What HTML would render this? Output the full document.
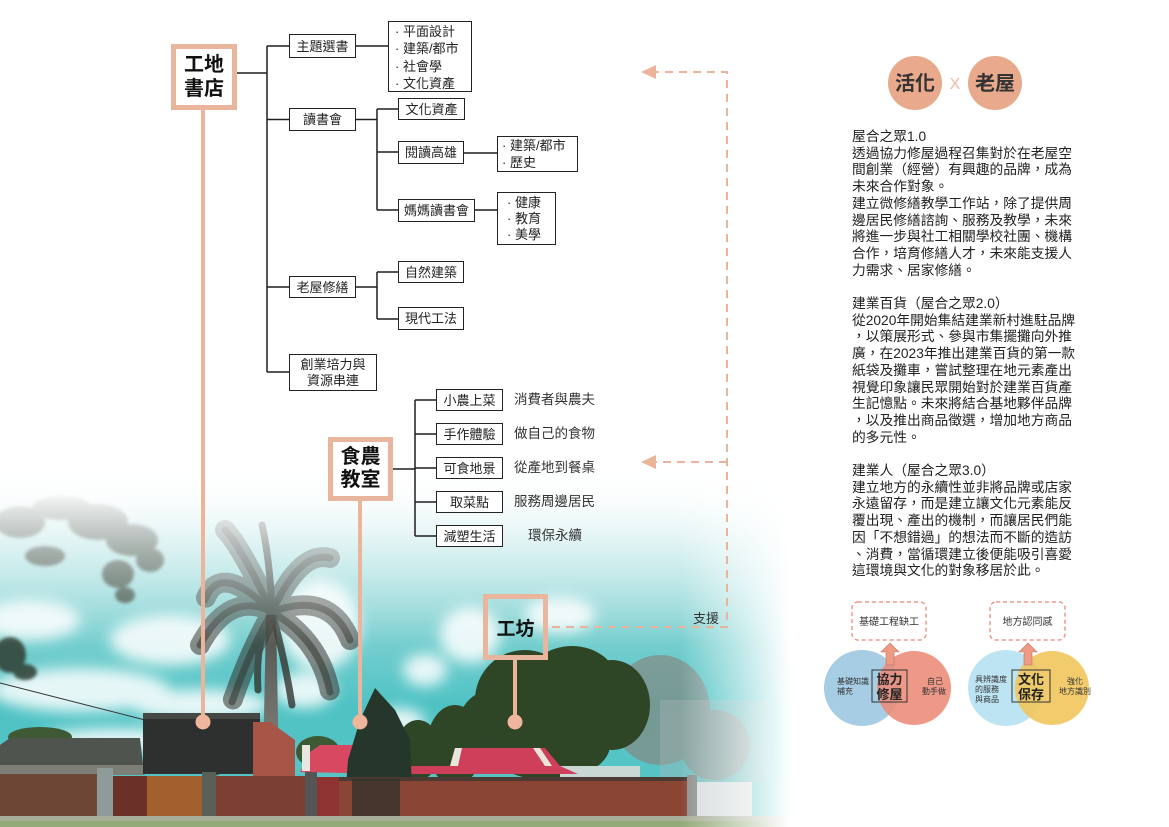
<!DOCTYPE html>
<html><head><meta charset="utf-8">
<style>
html,body{margin:0;padding:0}
body{width:1169px;height:827px;overflow:hidden;background:#fff;position:relative;font-family:"Liberation Sans","Noto Sans CJK TC",sans-serif;}
.b{position:absolute;border:1.5px solid #222;background:#fff;box-sizing:border-box;font-size:13px;color:#222;display:flex;align-items:center;justify-content:center;line-height:1;white-space:nowrap;}
.l{position:absolute;border:1.5px solid #222;background:#fff;box-sizing:border-box;font-size:13px;color:#222;white-space:nowrap}
.big{position:absolute;border:5px solid #e9b59c;box-sizing:border-box;font-size:20px;font-weight:bold;color:#111;display:flex;align-items:center;justify-content:center;text-align:center;}
.t{position:absolute;font-size:13.5px;color:#333;white-space:nowrap;line-height:1}
.txt{position:absolute;left:852px;top:129px;font-size:13.75px;line-height:16.7px;color:#222;white-space:nowrap}
</style></head><body>
<svg width="1169" height="827" style="position:absolute;left:0;top:0" xmlns="http://www.w3.org/2000/svg">
<defs>
<linearGradient id="sky" x1="0" y1="480" x2="0" y2="827" gradientUnits="userSpaceOnUse">
<stop offset="0" stop-color="#d8f0f0"/>
<stop offset="0.35" stop-color="#8fd6d6"/>
<stop offset="0.65" stop-color="#4fc2c4"/>
<stop offset="1" stop-color="#5cc6c6"/>
</linearGradient>
<linearGradient id="fadeTop" x1="0" y1="470" x2="0" y2="645" gradientUnits="userSpaceOnUse">
<stop offset="0" stop-color="#fff" stop-opacity="1"/>
<stop offset="0.15" stop-color="#fff" stop-opacity="0.93"/>
<stop offset="0.45" stop-color="#fff" stop-opacity="0.55"/>
<stop offset="1" stop-color="#fff" stop-opacity="0"/>
</linearGradient>
<linearGradient id="fadeR" x1="680" y1="0" x2="790" y2="0" gradientUnits="userSpaceOnUse">
<stop offset="0" stop-color="#fff" stop-opacity="0"/>
<stop offset="0.6" stop-color="#fff" stop-opacity="0.6"/>
<stop offset="1" stop-color="#fff" stop-opacity="1"/>
</linearGradient>
<linearGradient id="trunk" x1="0" y1="600" x2="0" y2="770" gradientUnits="userSpaceOnUse">
<stop offset="0" stop-color="#4a4c48"/>
<stop offset="1" stop-color="#85857f"/>
</linearGradient>
<filter id="bl" x="-50%" y="-50%" width="200%" height="200%"><feGaussianBlur stdDeviation="7"/></filter>
<filter id="bl2" x="-20%" y="-20%" width="140%" height="140%"><feGaussianBlur stdDeviation="1.5"/></filter>
<clipPath id="ph"><rect x="0" y="470" width="800" height="357"/></clipPath>
</defs>

<g clip-path="url(#ph)">
<rect x="0" y="470" width="800" height="357" fill="url(#sky)"/>
<g fill="#fff" filter="url(#bl)" opacity="0.85">
<ellipse cx="80" cy="690" rx="90" ry="22"/>
<ellipse cx="200" cy="705" rx="70" ry="16"/>
<ellipse cx="170" cy="640" rx="60" ry="25"/>
<ellipse cx="30" cy="620" rx="50" ry="20"/>
<ellipse cx="320" cy="625" rx="40" ry="45"/>
<ellipse cx="305" cy="690" rx="30" ry="18"/>
<ellipse cx="425" cy="670" rx="22" ry="16"/>
<ellipse cx="470" cy="635" rx="30" ry="28"/>
<ellipse cx="400" cy="722" rx="25" ry="14"/>
<ellipse cx="560" cy="615" rx="35" ry="18"/>
<ellipse cx="120" cy="740" rx="80" ry="12"/>
</g>
<g fill="#2f3d30" opacity="0.85" filter="url(#bl2)">
<ellipse cx="20" cy="522" rx="25" ry="16"/>
<ellipse cx="62" cy="508" rx="30" ry="12"/>
<ellipse cx="98" cy="522" rx="30" ry="18"/>
<ellipse cx="132" cy="540" rx="26" ry="16"/>
<ellipse cx="118" cy="574" rx="16" ry="14"/>
<ellipse cx="150" cy="560" rx="14" ry="12"/>
<ellipse cx="45" cy="556" rx="20" ry="10"/>
<ellipse cx="125" cy="595" rx="10" ry="8"/>
<ellipse cx="10" cy="655" rx="16" ry="18"/>
<ellipse cx="25" cy="672" rx="12" ry="8"/>
</g>
<path d="M263 770 L266 615 L276 615 L279 770 Z" fill="url(#trunk)"/>
<g fill="none" stroke="#33352f" stroke-linecap="round" opacity="0.8">
<g stroke-width="7">
<path d="M272 612 Q230 590 200 645"/>
<path d="M272 612 Q220 560 205 600"/>
<path d="M272 612 Q240 545 225 530"/>
<path d="M272 612 Q270 560 262 525"/>
<path d="M272 612 Q300 550 330 558"/>
<path d="M272 612 Q330 590 350 640"/>
<path d="M272 612 Q320 640 330 692"/>
<path d="M272 612 Q250 650 232 702"/>
<path d="M272 612 Q285 660 292 705"/>
<path d="M272 612 Q255 640 258 690"/>
</g>
<g stroke-width="20" stroke-dasharray="1.5 3" opacity="0.7">
<path d="M272 612 Q230 590 200 645"/>
<path d="M272 612 Q220 560 205 600"/>
<path d="M272 612 Q240 545 225 530"/>
<path d="M272 612 Q300 550 330 558"/>
<path d="M272 612 Q330 590 350 640"/>
<path d="M272 612 Q320 640 330 692"/>
<path d="M272 612 Q250 650 232 702"/>
</g>
</g>
<g fill="#858a83" opacity="0.7">
<ellipse cx="660" cy="710" rx="50" ry="55"/>
<ellipse cx="715" cy="745" rx="35" ry="35"/>
</g>
<g fill="#2e4526">
<ellipse cx="525" cy="700" rx="50" ry="50"/>
<ellipse cx="572" cy="682" rx="45" ry="36"/>
<ellipse cx="612" cy="705" rx="38" ry="45"/>
<ellipse cx="492" cy="730" rx="35" ry="40"/>
<ellipse cx="455" cy="745" rx="28" ry="40"/>
<ellipse cx="548" cy="745" rx="62" ry="35"/>
<ellipse cx="418" cy="750" rx="22" ry="30"/>
</g>
<g fill="#3d5a35">
<ellipse cx="40" cy="737" rx="32" ry="10"/>
<ellipse cx="318" cy="752" rx="22" ry="16"/>
<ellipse cx="212" cy="768" rx="12" ry="8"/>
</g>
<path d="M0 683 L145 720 L220 730" stroke="#333" stroke-width="1" fill="none"/>
<polygon points="0,745 10,738 140,738 143,765 0,765" fill="#4f544f"/>
<rect x="0" y="765" width="145" height="10" fill="#7d7f77"/>
<rect x="143" y="716" width="117" height="58" fill="#2d302e"/>
<rect x="143" y="713" width="117" height="6" fill="#454845"/>
<polygon points="253,722 270,722 295,740 295,776 253,776" fill="#a65546"/>
<polygon points="300,772 310,752 320,745 385,745 385,774" fill="#d84860"/>
<rect x="302" y="745" width="8" height="26" fill="#e8e8e0"/>
<rect x="560" y="766" width="80" height="14" fill="#c8d8d4"/>
<polygon points="402,774 412,766 450,766 455,748 545,748 560,766 578,774" fill="#cf3f5a"/>
<polygon points="450,766 455,748 462,748 458,766" fill="#e8e6dc"/>
<polygon points="533,748 540,748 552,766 545,766" fill="#e8e6dc"/>
<rect x="660" y="700" width="110" height="82" fill="#b0b6b6" opacity="0.35"/>
<polygon points="375,688 360,720 348,760 345,800 352,827 400,827 412,790 410,740 395,710" fill="#25372b"/>
<rect x="0" y="774" width="100" height="42" fill="#6d4636"/>
<rect x="97" y="768" width="16" height="48" fill="#8d9c98"/>
<rect x="113" y="776" width="34" height="40" fill="#6b3028"/>
<rect x="147" y="776" width="55" height="40" fill="#a3602f"/>
<rect x="202" y="772" width="14" height="44" fill="#5a5f58"/>
<rect x="216" y="776" width="90" height="41" fill="#7b3f33"/>
<rect x="305" y="772" width="12" height="45" fill="#555"/>
<rect x="317" y="777" width="22" height="40" fill="#8e3232"/>
<rect x="339" y="779" width="350" height="40" fill="#8a4434"/>
<rect x="339" y="777" width="350" height="4" fill="#4a3a33"/>
<rect x="352" y="779" width="48" height="40" fill="#2a3028" opacity="0.7"/>
<rect x="687" y="775" width="10" height="43" fill="#8c908c"/>
<rect x="697" y="782" width="55" height="36" fill="#d6dcdc"/>
<rect x="0" y="816" width="800" height="11" fill="#a8ae98"/>
<rect x="0" y="821" width="800" height="6" fill="#86a664" opacity="0.6"/>
<rect x="0" y="470" width="800" height="176" fill="url(#fadeTop)"/>
<rect x="680" y="470" width="120" height="357" fill="url(#fadeR)"/>
</g>

<g stroke="#ebb49b" stroke-width="4">
<line x1="203" y1="108" x2="203" y2="722"/>
<line x1="360" y1="499" x2="360" y2="722"/>
<line x1="515" y1="658" x2="515" y2="722"/>
</g>
<g fill="#efb59d">
<circle cx="203" cy="722" r="7.5"/>
<circle cx="360" cy="722" r="7.5"/>
<circle cx="515" cy="722" r="7.5"/>
</g>

<g stroke="#1e1e1e" stroke-width="1.5" fill="none">
<path d="M237 73 H267"/>
<path d="M267 46 V372"/>
<path d="M267 46 H289 M356 46 H388"/>
<path d="M267 119.5 H289 M356 119.5 H377 M377 109 V210 M377 109 H398 M377 152 H398 M377 210 H398"/>
<path d="M464 153 H497 M475 210 H497"/>
<path d="M267 287 H289 M356 287 H377 M377 272 V319 M377 272 H398 M377 319 H398"/>
<path d="M267 372 H289"/>
<path d="M393 469 H415 M415 400 V536 M415 400 H436 M415 434 H436 M415 468 H436 M415 502 H436 M415 536 H436"/>
</g>

<g stroke="#eab49a" stroke-width="2" fill="none" stroke-dasharray="8 6">
<path d="M552 627 H727 V72 H655"/>
<path d="M727 462 H655"/>
</g>
<polygon points="641,72 656,65 656,79" fill="#eab49a"/>
<polygon points="641,462 656,455 656,469" fill="#eab49a"/>
<text x="693" y="623" font-size="13" fill="#333" font-family="Liberation Sans, Noto Sans CJK TC, sans-serif">支援</text>

<circle cx="915" cy="83" r="27" fill="#e8a98c"/>
<circle cx="995" cy="83" r="27" fill="#e8a98c"/>
<text x="915" y="90" font-size="20" font-weight="bold" fill="#333" text-anchor="middle" font-family="Liberation Sans, Noto Sans CJK TC, sans-serif">活化</text>
<text x="995" y="90" font-size="20" font-weight="bold" fill="#333" text-anchor="middle" font-family="Liberation Sans, Noto Sans CJK TC, sans-serif">老屋</text>
<text x="955" y="89" font-size="16" fill="#f2b9a2" text-anchor="middle" font-family="Liberation Sans, sans-serif">X</text>

<rect x="852" y="602" width="74" height="38" rx="6" fill="none" stroke="#eb9a8a" stroke-width="1.5" stroke-dasharray="4 3"/>
<text x="889" y="625" font-size="10" fill="#333" text-anchor="middle" font-family="Liberation Sans, Noto Sans CJK TC, sans-serif">基礎工程缺工</text>
<circle cx="862" cy="688" r="38" fill="#a6cde3"/>
<circle cx="914" cy="688" r="37" fill="#ec8b78" opacity="0.88"/>
<polygon points="886,665 894,665 894,652 899,652 890,643 881,652 886,652" fill="#ee9a85" stroke="#c07060" stroke-width="0.6"/>
<rect x="872" y="670" width="35" height="32" fill="none" stroke="#333" stroke-width="1"/>
<text x="889.5" y="684" font-size="13" font-weight="bold" fill="#222" text-anchor="middle" font-family="Liberation Sans, Noto Sans CJK TC, sans-serif">協力</text>
<text x="889.5" y="699" font-size="13" font-weight="bold" fill="#222" text-anchor="middle" font-family="Liberation Sans, Noto Sans CJK TC, sans-serif">修屋</text>
<g font-size="8" fill="#333" font-family="Liberation Sans, Noto Sans CJK TC, sans-serif">
<text x="837" y="684">基礎知識</text>
<text x="837" y="694">補充</text>
<text x="927" y="684">自己</text>
<text x="922" y="694">動手做</text>
</g>

<rect x="990" y="602" width="75" height="38" rx="6" fill="none" stroke="#eb9a8a" stroke-width="1.5" stroke-dasharray="4 3"/>
<text x="1027.5" y="625" font-size="10" fill="#333" text-anchor="middle" font-family="Liberation Sans, Noto Sans CJK TC, sans-serif">地方認同感</text>
<circle cx="1006" cy="688" r="38" fill="#bde4f3"/>
<circle cx="1052" cy="688" r="37" fill="#f1c55c" opacity="0.9"/>
<polygon points="1024,665 1032,665 1032,652 1037,652 1028,643 1019,652 1024,652" fill="#ee9a85" stroke="#c07060" stroke-width="0.6"/>
<rect x="1012" y="670" width="38" height="32" fill="none" stroke="#333" stroke-width="1"/>
<text x="1031" y="684" font-size="13" font-weight="bold" fill="#222" text-anchor="middle" font-family="Liberation Sans, Noto Sans CJK TC, sans-serif">文化</text>
<text x="1031" y="699" font-size="13" font-weight="bold" fill="#222" text-anchor="middle" font-family="Liberation Sans, Noto Sans CJK TC, sans-serif">保存</text>
<g font-size="8" fill="#333" font-family="Liberation Sans, Noto Sans CJK TC, sans-serif">
<text x="975" y="682">具辨識度</text>
<text x="975" y="692">的服務</text>
<text x="975" y="702">與商品</text>
<text x="1067" y="684">強化</text>
<text x="1059" y="694">地方識別</text>
</g>
</svg>

<div class="big" style="left:171px;top:44px;width:66px;height:66px;background:#fff;line-height:24px">工地<br>書店</div>
<div class="big" style="left:328px;top:437px;width:65px;height:64px;background:#fff;line-height:23px">食農<br>教室</div>
<div class="big" style="left:483px;top:594px;width:65px;height:66px;background:transparent;font-size:19px">工坊</div>

<div class="b" style="left:289px;top:34px;width:67px;height:24px">主題選書</div>
<div class="l" style="left:388px;top:21px;width:84px;height:71px;line-height:17.3px;padding:1px 0 0 6px">· 平面設計<br>· 建築/都市<br>· 社會學<br>· 文化資產</div>
<div class="b" style="left:289px;top:108px;width:67px;height:23px">讀書會</div>
<div class="b" style="left:398px;top:98px;width:67px;height:22px">文化資產</div>
<div class="b" style="left:398px;top:141px;width:66px;height:23px">閱讀高雄</div>
<div class="l" style="left:497px;top:136px;width:81px;height:36px;line-height:17px;padding:0 0 0 4px">· 建築/都市<br>· 歷史</div>
<div class="b" style="left:398px;top:199px;width:77px;height:23px">媽媽讀書會</div>
<div class="l" style="left:497px;top:192px;width:59px;height:53px;line-height:16px;padding:2px 0 0 9px">· 健康<br>· 教育<br>· 美學</div>
<div class="b" style="left:289px;top:276px;width:67px;height:22px">老屋修繕</div>
<div class="b" style="left:398px;top:261px;width:66px;height:22px">自然建築</div>
<div class="b" style="left:398px;top:307px;width:66px;height:23px">現代工法</div>
<div class="b" style="left:289px;top:354px;width:88px;height:37px;line-height:16px;text-align:center">創業培力與<br>資源串連</div>

<div class="b" style="left:436px;top:389px;width:67px;height:22px">小農上菜</div>
<div class="b" style="left:436px;top:423px;width:67px;height:22px">手作體驗</div>
<div class="b" style="left:436px;top:457px;width:67px;height:22px">可食地景</div>
<div class="b" style="left:436px;top:491px;width:67px;height:22px">取菜點</div>
<div class="b" style="left:436px;top:525px;width:67px;height:22px">減塑生活</div>

<div class="t" style="left:514px;top:393px">消費者與農夫</div>
<div class="t" style="left:514px;top:427px">做自己的食物</div>
<div class="t" style="left:514px;top:461px">從產地到餐桌</div>
<div class="t" style="left:514px;top:495px">服務周邊居民</div>
<div class="t" style="left:528px;top:529px">環保永續</div>

<div class="txt">屋合之眾1.0<br>透過協力修屋過程召集對於在老屋空<br>間創業（經營）有興趣的品牌，成為<br>未來合作對象。<br>建立微修繕教學工作站，除了提供周<br>邊居民修繕諮詢、服務及教學，未來<br>將進一步與社工相關學校社團、機構<br>合作，培育修繕人才，未來能支援人<br>力需求、居家修繕。<br>&nbsp;<br>建業百貨（屋合之眾2.0）<br>從2020年開始集結建業新村進駐品牌<br>，以策展形式、參與市集擺攤向外推<br>廣，在2023年推出建業百貨的第一款<br>紙袋及攤車，嘗試整理在地元素產出<br>視覺印象讓民眾開始對於建業百貨產<br>生記憶點。未來將結合基地夥伴品牌<br>，以及推出商品徵選，增加地方商品<br>的多元性。<br>&nbsp;<br>建業人（屋合之眾3.0）<br>建立地方的永續性並非將品牌或店家<br>永遠留存，而是建立讓文化元素能反<br>覆出現、產出的機制，而讓居民們能<br>因「不想錯過」的想法而不斷的造訪<br>、消費，當循環建立後便能吸引喜愛<br>這環境與文化的對象移居於此。</div>
</body></html>
